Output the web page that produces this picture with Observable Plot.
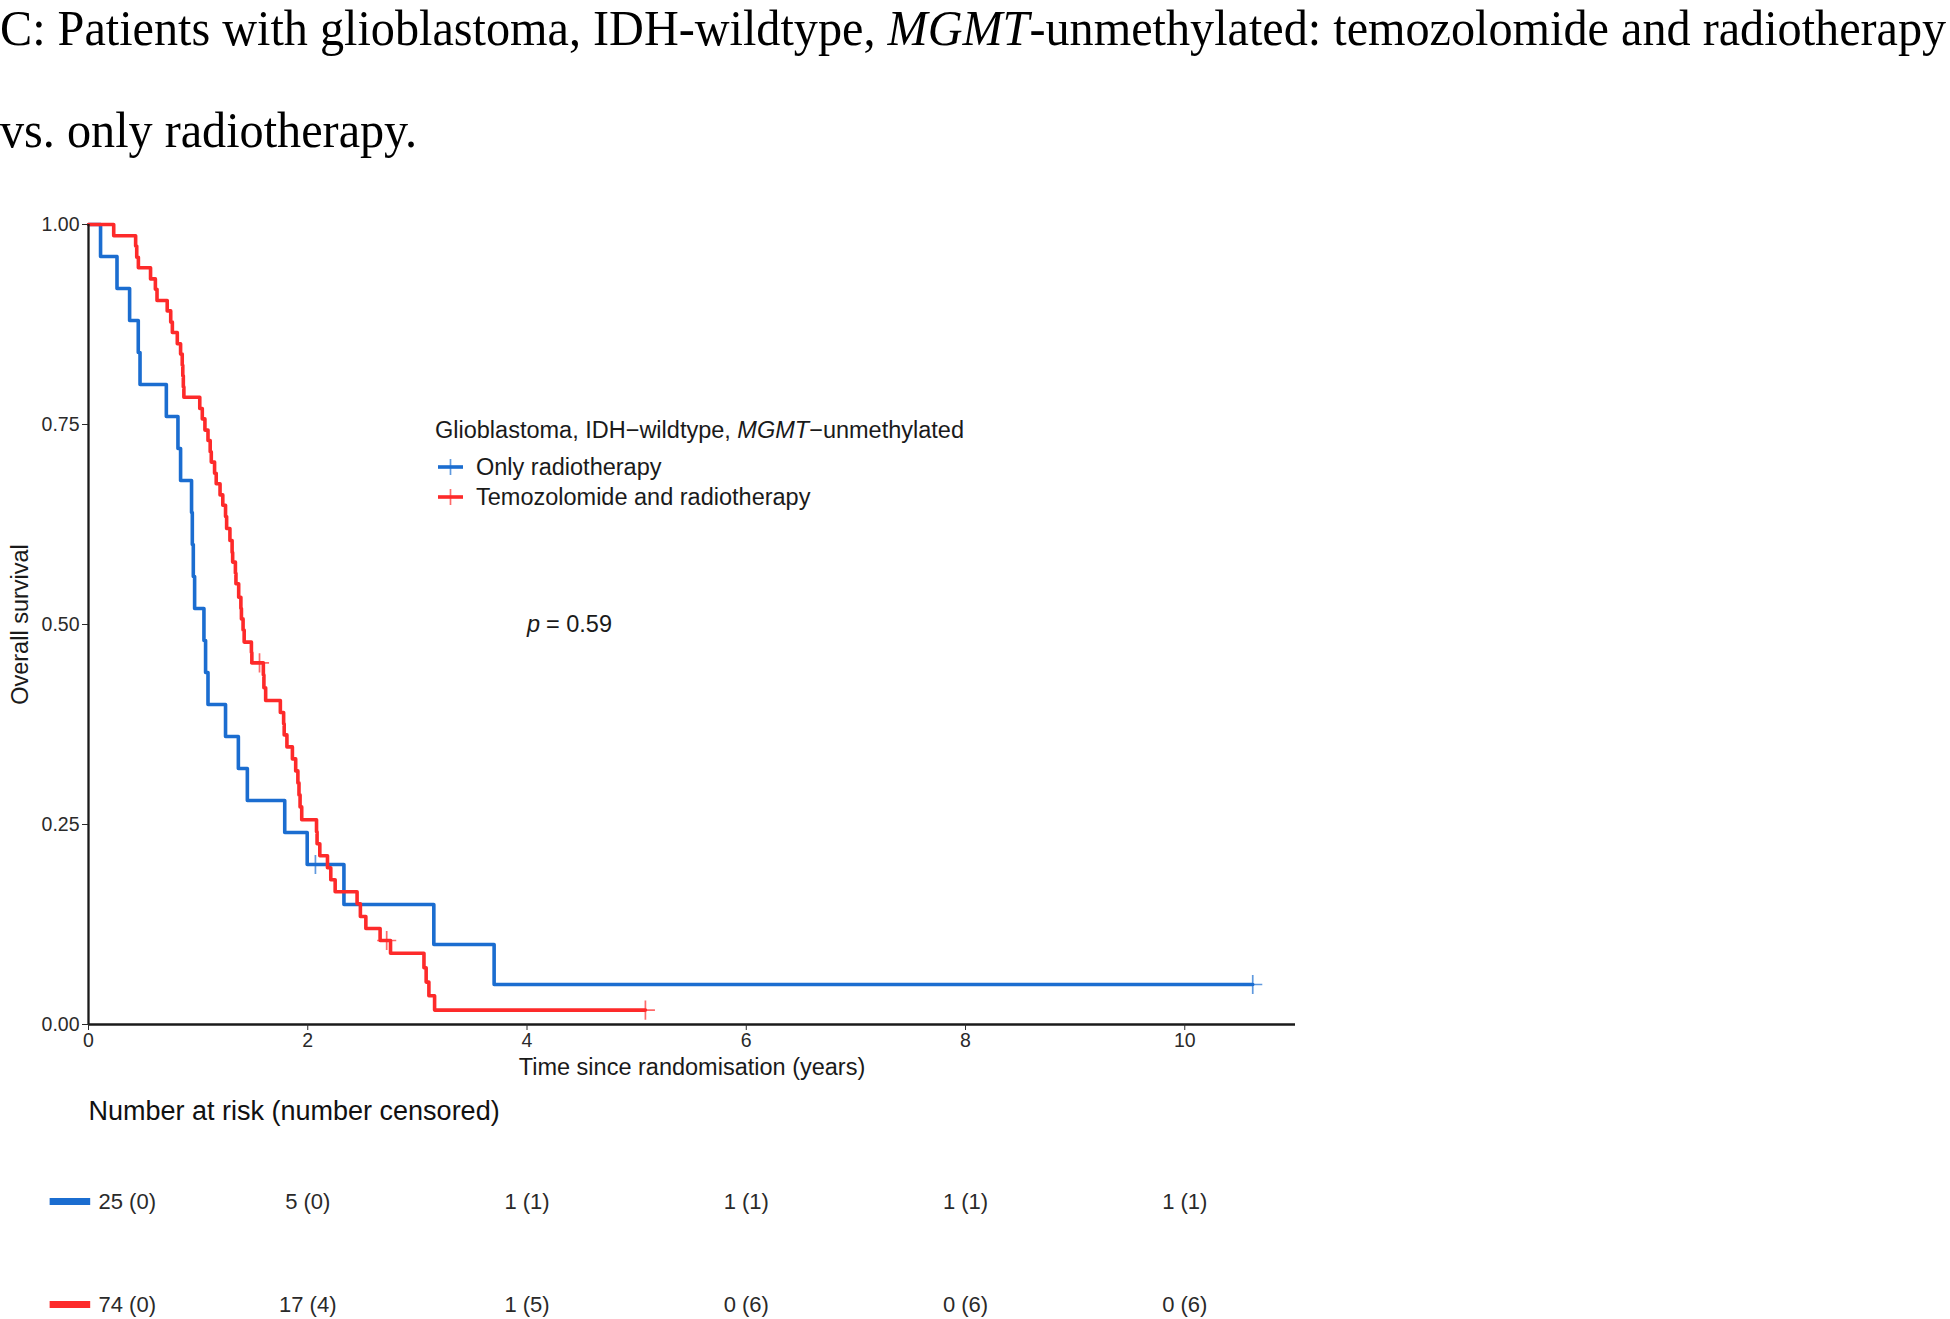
<!DOCTYPE html>
<html>
<head>
<meta charset="utf-8">
<script src="https://cdn.jsdelivr.net/npm/d3@7"></script>
<script src="https://cdn.jsdelivr.net/npm/@observablehq/plot@0.6"></script>
<style>
  html, body { margin: 0; padding: 0; background: #fff; width: 1950px; height: 1319px; overflow: hidden; }
  #root { position: relative; width: 1950px; height: 1319px; }
  .tl { position: absolute; left: 0; font-family: "Liberation Serif", "Times New Roman", serif;
        font-size: 51px; line-height: 1.11; color: #000; white-space: nowrap;
        transform: scaleX(0.945); transform-origin: 0 0; }
  #main { position: absolute; left: 0; top: 160px; }
  #risk { position: absolute; left: 0; top: 1090px; }
  .lg { position: absolute; font-family: "Liberation Sans", Arial, sans-serif; font-size: 23.5px; color: #1a1a1a;
        white-space: pre; height: 30px; line-height: 30px; display: flex; align-items: center; }
  .lg svg { margin-right: 13px; }
</style>
</head>
<body>
<div id="root">
  <div id="title1" class="tl" style="top:0px"></div>
  <div id="title2" class="tl" style="top:101.5px"></div>
  <div id="main"></div>
  <div id="risk"></div>
  <div id="legend"></div>
</div>
<script>
// ---------------- data ----------------
const groups = ["Only radiotherapy", "Temozolomide and radiotherapy"];
const colors = ["#1b6dd0", "#fd2a2a"];

// Only radiotherapy (blue) – step curve: time (years), survival after step
const blueTimes = [0, 0.11, 0.26, 0.375, 0.454, 0.47, 0.71, 0.816, 0.84, 0.94, 0.947, 0.956, 0.968,
  1.053, 1.068, 1.09, 1.25, 1.367, 1.449, 1.79, 1.995, 2.33, 3.15, 3.70, 10.62];
const blueSurv = [1, 0.96, 0.92, 0.88, 0.84, 0.80, 0.76, 0.72, 0.68, 0.64, 0.60, 0.56, 0.52,
  0.48, 0.44, 0.40, 0.36, 0.32, 0.28, 0.24, 0.20, 0.15, 0.10, 0.05, 0.05];
const blueCensorTimes = [2.07, 10.62];
const blueCensorSurv = [0.20, 0.05];

// Temozolomide and radiotherapy (red)
const redTimes = [0, 0.23, 0.43, 0.44, 0.455, 0.566, 0.61, 0.625, 0.718, 0.75, 0.765, 0.81, 0.84, 0.855,
  0.86, 0.865, 0.87, 1.015, 1.038, 1.062, 1.09, 1.11, 1.12, 1.15, 1.165, 1.20, 1.225, 1.25, 1.26, 1.29,
  1.31, 1.315, 1.34, 1.345, 1.37, 1.39, 1.395, 1.41, 1.42, 1.486, 1.49, 1.595, 1.60, 1.616, 1.75, 1.78,
  1.785, 1.81, 1.86, 1.89, 1.91, 1.92, 1.93, 1.945, 2.08, 2.085, 2.11, 2.18, 2.21, 2.25, 2.45, 2.48,
  2.53, 2.66, 2.755, 3.06, 3.08, 3.105, 3.157, 5.08];
const redSurv = [1, 0.986, 0.973, 0.959, 0.946, 0.932, 0.919, 0.905, 0.892, 0.878, 0.865, 0.851, 0.838, 0.824,
  0.811, 0.797, 0.784, 0.770, 0.757, 0.743, 0.730, 0.716, 0.703, 0.689, 0.676, 0.662, 0.649, 0.635, 0.620, 0.605,
  0.590, 0.578, 0.564, 0.551, 0.534, 0.520, 0.507, 0.493, 0.478, 0.465, 0.452, 0.437, 0.421, 0.405, 0.390, 0.376,
  0.362, 0.347, 0.332, 0.317, 0.302, 0.287, 0.272, 0.256, 0.241, 0.226, 0.211, 0.196, 0.181, 0.166, 0.151, 0.135,
  0.120, 0.105, 0.089, 0.071, 0.053, 0.036, 0.018, 0.018];
const redCensorTimes = [1.56, 2.72, 5.08];
const redCensorSurv = [0.452, 0.105, 0.018];

// axes
const xTicks = [0, 2, 4, 6, 8, 10];
const yTicks = [0, 0.25, 0.5, 0.75, 1];
const xDomain = [0, 11.01];
const xTitle = "Time since randomisation (years)";
const yTitle = "Overall survival";

// p value annotation
const pAnnot = { time: 4, surv: 0.5, label: "= 0.59" };

// risk table
const riskTimes = [0, 2, 4, 6, 8, 10];
const blueRisk = ["25 (0)", "5 (0)", "1 (1)", "1 (1)", "1 (1)", "1 (1)"];
const redRisk = ["74 (0)", "17 (4)", "1 (5)", "0 (6)", "0 (6)", "0 (6)"];
const riskTitle = "Number at risk (number censored)";

// titles
const legendTitle = ["Glioblastoma, IDH\u2212wildtype, ", "MGMT", "\u2212unmethylated"];
const titleLine1 = ["C: Patients with glioblastoma, IDH-wildtype, ", "MGMT", "-unmethylated: temozolomide and radiotherapy"];
const titleLine2 = "vs. only radiotherapy.";

// ---------------- build tables ----------------
const curveRows = [
  ...blueTimes.map((t, i) => ({ group: groups[0], time: t, surv: blueSurv[i] })),
  ...redTimes.map((t, i) => ({ group: groups[1], time: t, surv: redSurv[i] }))
];
const censorRows = [
  ...blueCensorTimes.map((t, i) => ({ group: groups[0], time: t, surv: blueCensorSurv[i] })),
  ...redCensorTimes.map((t, i) => ({ group: groups[1], time: t, surv: redCensorSurv[i] }))
];
const riskRows = [
  ...riskTimes.map((t, i) => ({ group: groups[0], time: t, label: blueRisk[i] })),
  ...riskTimes.map((t, i) => ({ group: groups[1], time: t, label: redRisk[i] }))
];

const sans = "Liberation Sans, Arial, sans-serif";

// ---------------- title ----------------
document.getElementById("title1").innerHTML = `${titleLine1[0]}<i>${titleLine1[1]}</i>${titleLine1[2]}`;
document.getElementById("title2").textContent = titleLine2;

// ---------------- main plot ----------------
const main = Plot.plot({
  width: 1950, height: 930,
  marginTop: 64, marginBottom: 66, marginLeft: 88, marginRight: 655,
  style: { background: "transparent", fontFamily: sans },
  x: { domain: xDomain },
  y: { domain: [0, 1] },
  color: { domain: groups, range: colors },
  marks: [
    Plot.line(curveRows, { x: "time", y: "surv", z: "group", stroke: "group", curve: "step-after", strokeWidth: 3.6 }),
    Plot.dot(censorRows, { x: "time", y: "surv", stroke: "group", symbol: "plus", r: 6.2, strokeWidth: 1.7, strokeOpacity: 0.7 }),
    Plot.ruleX([0], { stroke: "#1a1a1a", strokeWidth: 2.3 }),
    Plot.ruleY([0], { stroke: "#1a1a1a", strokeWidth: 2.3 }),
    Plot.axisX({ ticks: xTicks, tickSize: 6, tickPadding: 3, fontSize: 19.5, label: null, color: "#2a2a2a" }),
    Plot.axisY({ ticks: yTicks, tickFormat: d3.format(".2f"), tickSize: 6, tickPadding: 3, fontSize: 19.5, label: null, color: "#2a2a2a" }),
    Plot.text([xTitle], { frameAnchor: "bottom", lineAnchor: "middle", dy: 43, fontSize: 23.5, fill: "#1a1a1a" }),
    Plot.text([yTitle], { frameAnchor: "left", textAnchor: "middle", lineAnchor: "middle", rotate: -90, dx: -68, fontSize: 23.5, fill: "#1a1a1a" }),
    Plot.text([pAnnot], { x: "time", y: "surv", text: () => "p", textAnchor: "start", fontStyle: "italic", fontSize: 23.5, fill: "#1a1a1a" }),
    Plot.text([pAnnot], { x: "time", y: "surv", text: "label", textAnchor: "start", dx: 19, fontSize: 23.5, fill: "#1a1a1a" })
  ]
});
document.getElementById("main").appendChild(main);

// ---------------- legend ----------------
const lg = document.getElementById("legend");
function keySvg(c) {
  return `<svg width="25" height="24" viewBox="0 0 25 24"><line x1="0" y1="12" x2="25" y2="12" stroke="${c}" stroke-width="3.6"/>` +
         `<line x1="12.5" y1="4" x2="12.5" y2="20" stroke="${c}" stroke-width="1.7" stroke-opacity="0.7"/></svg>`;
}
lg.innerHTML =
  `<div class="lg" style="left:435px;top:415px"><span>${legendTitle[0]}<i>${legendTitle[1]}</i>${legendTitle[2]}</span></div>` +
  groups.map((g, i) => `<div class="lg" style="left:438px;top:${452 + i * 30}px">${keySvg(colors[i])}<span>${g}</span></div>`).join("");

// ---------------- risk table ----------------
const risk = Plot.plot({
  width: 1950, height: 229,
  marginTop: 111, marginBottom: 15, marginLeft: 88, marginRight: 655,
  style: { background: "transparent", fontFamily: sans },
  x: { domain: xDomain, axis: null },
  y: { type: "point", domain: groups, padding: 0, axis: null },
  color: { domain: groups, range: colors },
  marks: [
    Plot.text([riskTitle], { frameAnchor: "top-left", lineAnchor: "middle", dy: -90, textAnchor: "start", fontSize: 27, fill: "#111" }),
    Plot.ruleY(groups, { y: d => d, x1: -0.35, x2: 0.02, stroke: d => d, strokeWidth: 7 }),
    Plot.text(riskRows.filter(d => d.time > 0), { x: "time", y: "group", text: "label", fontSize: 22, fill: "#2a2a2a" }),
    Plot.text(riskRows.filter(d => d.time === 0), { x: "time", y: "group", text: "label", textAnchor: "start", dx: 10, fontSize: 22, fill: "#2a2a2a" })
  ]
});
document.getElementById("risk").appendChild(risk);
</script>
</body>
</html>
